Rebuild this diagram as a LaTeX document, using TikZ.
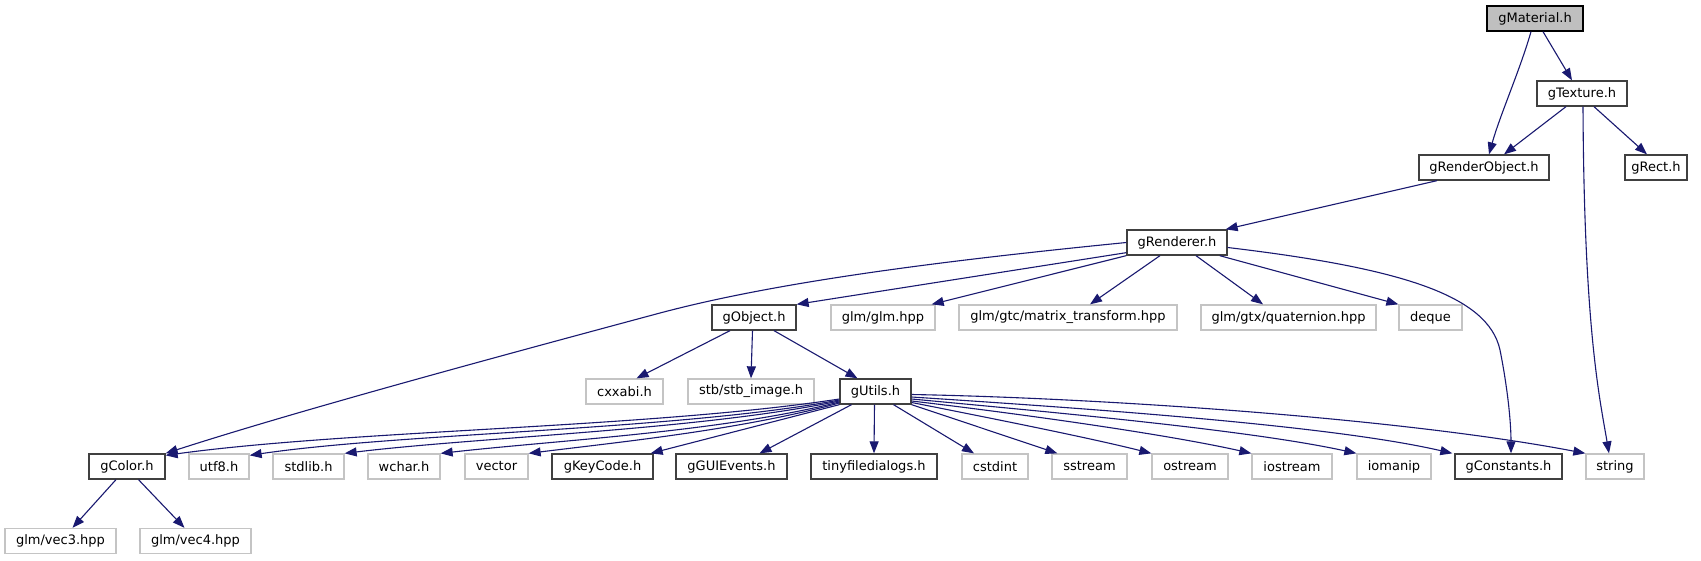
\documentclass[tikz,border=0pt]{standalone}
\usepackage{fontspec}
\setmainfont{DejaVu Sans}
\usetikzlibrary{arrows.meta}
\definecolor{edgecol}{HTML}{191970}
\definecolor{docborder}{HTML}{404040}
\definecolor{extborder}{HTML}{C4C4C4}
\definecolor{rootfill}{HTML}{BFBFBF}
\tikzset{
  hbox/.style={rectangle, draw=docborder, line width=1.3pt, fill=white, minimum height=25pt, inner sep=0pt, text=black, font=\fontsize{13}{15}\selectfont},
  extbox/.style={hbox, draw=extborder},
  rootbox/.style={hbox, draw=black, fill=rootfill},
  edge/.style={draw=edgecol, line width=1.1pt, -{Triangle[length=12pt,width=9pt]}, fill=none}
}
\begin{document}
\begin{tikzpicture}[x=1pt,y=-1pt]
\useasboundingbox[fill=white] (0,0) rectangle (1701,560);
% nodes
\node[rootbox, minimum width=96pt] (gMaterial) at (1535,18.5) {gMaterial.h};
\node[hbox, minimum width=90pt] (gTexture) at (1582,93.5) {gTexture.h};
\node[hbox, minimum width=130pt] (gRenderObject) at (1484,167.5) {gRenderObject.h};
\node[hbox, minimum width=62pt] (gRect) at (1656,167.5) {gRect.h};
\node[hbox, minimum width=100pt] (gRenderer) at (1177,242.5) {gRenderer.h};
\node[hbox, minimum width=84pt] (gObject) at (754,317.5) {gObject.h};
\node[extbox, minimum width=104pt] (glmglm) at (883,317.5) {glm/glm.hpp};
\node[extbox, minimum width=218pt] (matrix) at (1068,317.5) {glm/gtc/matrix\_transform.hpp};
\node[extbox, minimum width=175pt] (quat) at (1288.5,317.5) {glm/gtx/quaternion.hpp};
\node[extbox, minimum width=63pt] (deque) at (1430.5,317.5) {deque};
\node[extbox, minimum width=77pt] (cxxabi) at (624.5,391.5) {cxxabi.h};
\node[extbox, minimum width=126pt] (stb) at (751,391.5) {stb/stb\_image.h};
\node[hbox, minimum width=71pt] (gUtils) at (875.5,391.5) {gUtils.h};
\node[hbox, minimum width=76pt] (gColor) at (127,466.5) {gColor.h};
\node[extbox, minimum width=60pt] (utf8) at (219,466.5) {utf8.h};
\node[extbox, minimum width=71pt] (stdlib) at (308.5,466.5) {stdlib.h};
\node[extbox, minimum width=72pt] (wchar) at (404,466.5) {wchar.h};
\node[extbox, minimum width=63pt] (vector) at (496.5,466.5) {vector};
\node[hbox, minimum width=101pt] (gKeyCode) at (602.5,466.5) {gKeyCode.h};
\node[hbox, minimum width=111pt] (gGUIEvents) at (731.5,466.5) {gGUIEvents.h};
\node[hbox, minimum width=126pt] (tiny) at (874,466.5) {tinyfiledialogs.h};
\node[extbox, minimum width=66pt] (cstdint) at (995,466.5) {cstdint};
\node[extbox, minimum width=75pt] (sstream) at (1089.5,466.5) {sstream};
\node[extbox, minimum width=76pt] (ostream) at (1190,466.5) {ostream};
\node[extbox, minimum width=80pt] (iostream) at (1292,466.5) {iostream};
\node[extbox, minimum width=74pt] (iomanip) at (1394,466.5) {iomanip};
\node[hbox, minimum width=107pt] (gConstants) at (1508.5,466.5) {gConstants.h};
\node[extbox, minimum width=58pt] (string) at (1615,466.5) {string};
\node[extbox, minimum width=111pt] (vec3) at (60.5,541) {glm/vec3.hpp};
\node[extbox, minimum width=111pt] (vec4) at (195.5,541) {glm/vec4.hpp};
% edges from gMaterial / gTexture
\draw[edge] ([xshift=-4pt]gMaterial.south) .. controls (1520,70) and (1500,115) .. ([xshift=5pt]gRenderObject.north);
\draw[edge] ([xshift=8pt]gMaterial.south) -- ([xshift=-10pt]gTexture.north);
\draw[edge] ([xshift=-16pt]gTexture.south) -- ([xshift=20pt]gRenderObject.north);
\draw[edge] ([xshift=12pt]gTexture.south) -- ([xshift=-9pt]gRect.north);
\draw[edge] ([xshift=1pt]gTexture.south) .. controls (1584,330) and (1600,400) .. ([xshift=-6pt]string.north);
\draw[edge] ([xshift=-47pt]gRenderObject.south) -- ([xshift=-2pt]gRenderer.north east);
% edges from gRenderer
\draw[edge] (gRenderer.west) .. controls (950,260) and (780,281) .. (660,313) .. controls (500,356) and (300,410) .. (gColor.north east);
\draw[edge] ([yshift=3pt]gRenderer.south west) -- (gObject.north east);
\draw[edge] (gRenderer.south west) -- ([xshift=-4pt]glmglm.north east);
\draw[edge] ([xshift=-17pt]gRenderer.south) -- ([xshift=22pt]matrix.north);
\draw[edge] ([xshift=19pt]gRenderer.south) -- ([xshift=-25.5pt]quat.north);
\draw[edge] ([xshift=-8pt]gRenderer.south east) -- (deque.north west);
\draw[edge] ([yshift=-5pt]gRenderer.east) .. controls (1400,268) and (1488,295) .. (1500,350) .. controls (1507,385) and (1511,420) .. ([xshift=2.5pt]gConstants.north);
% edges from gObject
\draw[edge] ([xshift=-24pt]gObject.south) -- ([xshift=12pt]cxxabi.north);
\draw[edge] ([xshift=-1.5pt]gObject.south) -- (stb.north);
\draw[edge] ([xshift=20pt]gObject.south) -- ([xshift=-18pt]gUtils.north);
% edges from gColor
\draw[edge] ([xshift=-11pt]gColor.south) -- ([xshift=12pt]vec3.north);
\draw[edge] ([xshift=11.5pt]gColor.south) -- ([xshift=-11pt]vec4.north);
% edges from gUtils, left
\draw[edge] ([yshift=-7.5pt]gUtils.west) .. controls (650,428) and (350,430) .. ([yshift=-2pt]gColor.north east);
\draw[edge] ([yshift=-8.5pt]gUtils.west) .. controls (680,430) and (400,433) .. ([yshift=-2pt]utf8.north east);
\draw[edge] ([yshift=-9.5pt]gUtils.west) .. controls (700,430) and (480,437) .. (stdlib.north east);
\draw[edge] ([yshift=-10.5pt]gUtils.west) .. controls (720,432) and (560,440) .. (wchar.north east);
\draw[edge] ([yshift=-11.5pt]gUtils.west) .. controls (740,430) and (620,442) .. (vector.north east);
\draw[edge] (gUtils.south west) -- ([xshift=-3pt]gKeyCode.north east);
% edges from gUtils, down and right
\draw[edge] ([xshift=-24pt]gUtils.south) -- ([xshift=28pt]gGUIEvents.north);
\draw[edge] ([xshift=-1pt]gUtils.south) -- (tiny.north);
\draw[edge] ([xshift=18pt]gUtils.south) -- ([xshift=-21pt]cstdint.north);
\draw[edge] (gUtils.south east) -- ([xshift=6pt]sstream.north west);
\draw[edge] ([yshift=-11pt]gUtils.east) .. controls (1000,420) and (1090,438) .. (ostream.north west);
\draw[edge] ([yshift=-9.5pt]gUtils.east) .. controls (1030,415) and (1170,435) .. (iostream.north west);
\draw[edge] ([yshift=-7.5pt]gUtils.east) .. controls (1050,412) and (1250,430) .. (iomanip.north west);
\draw[edge] ([yshift=-5.5pt]gUtils.east) .. controls (1080,408) and (1330,425) .. ([xshift=-2pt]gConstants.north west);
\draw[edge] ([yshift=-3pt]gUtils.east) .. controls (1100,398) and (1400,418) .. (string.north west);
\end{tikzpicture}
\end{document}
